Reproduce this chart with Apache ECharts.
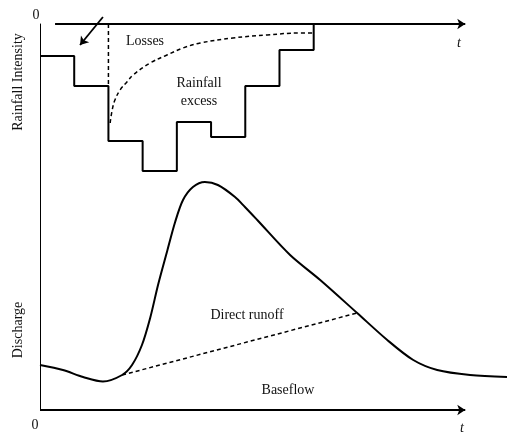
<!DOCTYPE html>
<html><head><meta charset="utf-8">
<script src="https://cdn.jsdelivr.net/npm/echarts@6/dist/echarts.min.js"></script>
<style>html,body{margin:0;padding:0;background:#fff}#c{width:507px;height:432px}</style>
</head><body><div id="c"></div>
<script>
// Hyetograph (rainfall intensity, inverted axis)
const rainT = [0, 1, 2, 3, 4, 5, 6, 7, 8];
const rainI = [2.13, 4.13, 7.8, 9.8, 6.53, 7.53, 4.13, 1.73, 0];
// Loss curve (dashed)
const lossT = [2.05, 2.11, 2.19, 2.34, 2.54, 2.72, 3.22, 3.71, 4.18, 4.68, 5.64, 6.64, 7.6, 7.98];
const lossI = [6.6, 5.73, 5.07, 4.4, 3.87, 3.4, 2.6, 2.07, 1.6, 1.27, 0.93, 0.73, 0.6, 0.6];
// Loss start (dashed vertical)
const lossStartT = [2, 2];
const lossStartI = [0, 4.13];
// Hydrograph
const flowT = [0, 0.67, 1.26, 1.84, 2.4, 2.69, 2.98, 3.22, 3.45, 3.71, 3.95, 4.18, 4.47, 4.82, 5.2, 5.7, 5.99, 6.35, 7.31, 8.19, 9.27, 10.15, 10.91, 11.61, 12.57, 13.65];
const flowQ = [4.5, 4.0, 3.3, 2.85, 3.5, 4.5, 6.5, 9.2, 12.5, 15.8, 18.8, 21.0, 22.3, 22.8, 22.5, 21.3, 20.3, 19.0, 15.5, 13.0, 9.7, 7.0, 5.0, 4.0, 3.5, 3.3];
// Baseflow separation (dashed)
const baseT = [2.4, 9.27];
const baseQ = [3.5, 9.7];
// Annotation arrow (start, end) in top-panel data coords
const pointerT = [1.84, 1.17];
const pointerI = [-0.47, 1.4];
// Time axes (drawn with arrow heads)
const topAxisT = [0.44, 12.43];
const bottomAxisT = [0, 12.43];
const tMax = 13.65, iMax = 10, qMax = 23.6;

const zip = (a, b) => a.map((v, i) => [v, b[i]]);
const FONT = '14px "Liberation Serif", "Times New Roman", serif';
const FONT_I = 'italic 14px "Liberation Serif", "Times New Roman", serif';
const blank = {axisTick:{show:false}, axisLabel:{show:false}, splitLine:{show:false}};
const arrowLine = (xi, yi, t, v, w) => ({type: 'lines', coordinateSystem: 'cartesian2d', xAxisIndex: xi, yAxisIndex: yi,
  clip: false, symbol: ['none', 'arrow'], symbolSize: 8, lineStyle: {color: '#000', width: w, opacity: 1},
  data: [{coords: zip(t, v)}]});

const chart = echarts.init(document.getElementById('c'), null, {renderer:'canvas'});
chart.setOption({
  animation: false,
  backgroundColor: '#fff',
  grid: [
    {left: 40, top: 24, width: 467, height: 150},
    {left: 40, top: 174, width: 467, height: 236}
  ],
  xAxis: [
    Object.assign({gridIndex: 0, type: 'value', min: 0, max: tMax, position: 'top', axisLine: {show: false}}, blank),
    Object.assign({gridIndex: 1, type: 'value', min: 0, max: tMax, axisLine: {show: false}}, blank)
  ],
  yAxis: [
    Object.assign({gridIndex: 0, type: 'value', min: 0, max: iMax, inverse: true,
      axisLine: {show: true, lineStyle: {color: '#000', width: 1}}}, blank),
    Object.assign({gridIndex: 1, type: 'value', min: 0, max: qMax,
      axisLine: {show: true, lineStyle: {color: '#000', width: 1}}}, blank)
  ],
  series: [
    {type: 'line', xAxisIndex: 0, yAxisIndex: 0, step: 'end', data: zip(rainT, rainI), symbol: 'none',
      lineStyle: {color: '#000', width: 2}},
    {type: 'line', xAxisIndex: 0, yAxisIndex: 0, smooth: 0.4, data: zip(lossT, lossI), symbol: 'none',
      lineStyle: {color: '#000', width: 1.5, type: [4, 3]}},
    {type: 'line', xAxisIndex: 0, yAxisIndex: 0, data: zip(lossStartT, lossStartI), symbol: 'none',
      lineStyle: {color: '#000', width: 1.5, type: [4, 3]}},
    arrowLine(0, 0, topAxisT, [0, 0], 2),
    arrowLine(0, 0, pointerT, pointerI, 1.8),
    arrowLine(1, 1, bottomAxisT, [0, 0], 2),
    {type: 'line', xAxisIndex: 1, yAxisIndex: 1, smooth: 0.3, clip: false, data: zip(flowT, flowQ), symbol: 'none',
      lineStyle: {color: '#000', width: 2}},
    {type: 'line', xAxisIndex: 1, yAxisIndex: 1, data: zip(baseT, baseQ), symbol: 'none',
      lineStyle: {color: '#000', width: 1.5, type: [4, 3]}}
  ]
});

function txt(text, x, y, opts) {
  opts = opts || {};
  return {type: 'text', x: x, y: y, rotation: opts.rot || 0, z: 100,
    style: {text: text, fill: '#111', font: opts.font || FONT,
      align: 'center', verticalAlign: 'middle', textAlign: 'center', textVerticalAlign: 'middle'}};
}
chart.setOption({graphic: [
  txt('0', 36, 15),
  txt('0', 35, 425),
  txt('t', 459, 43, {font: FONT_I}),
  txt('t', 462, 428, {font: FONT_I}),
  txt('Losses', 145, 41),
  txt('Rainfall', 199, 83),
  txt('excess', 199, 101),
  txt('Direct runoff', 247, 315),
  txt('Baseflow', 288, 390),
  txt('Rainfall Intensity', 18, 82, {rot: Math.PI / 2}),
  txt('Discharge', 18, 330, {rot: Math.PI / 2})
]});
</script></body></html>
